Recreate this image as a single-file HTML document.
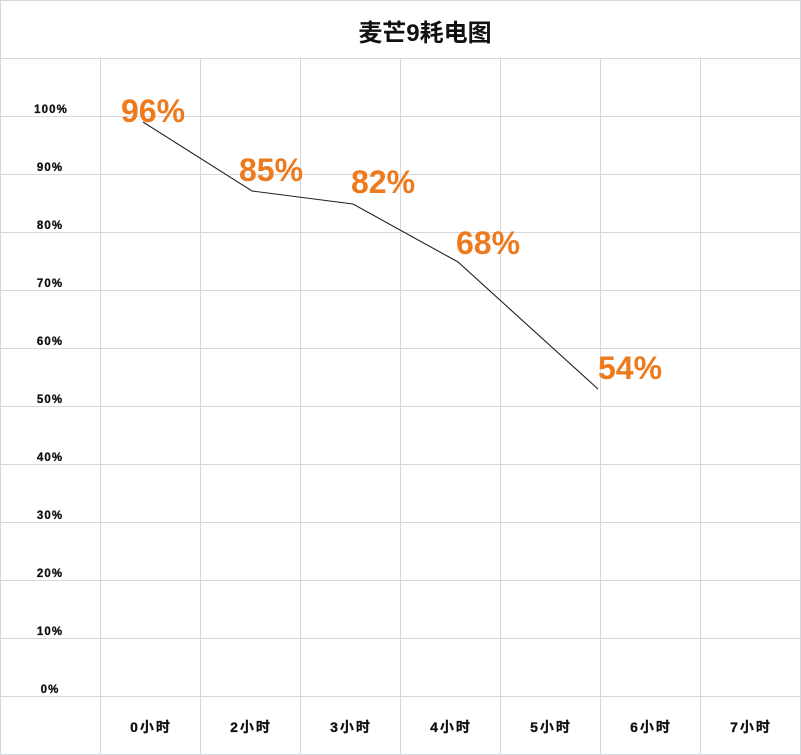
<!DOCTYPE html>
<html><head><meta charset="utf-8"><style>
html,body{margin:0;padding:0;background:#fff;}
svg{display:block;}
</style></head><body>
<svg width="801" height="755" viewBox="0 0 801 755" xmlns="http://www.w3.org/2000/svg">
<rect x="0" y="0" width="801" height="755" fill="#fff"/>
<g stroke="#d5d8dc" stroke-width="1" fill="none">
<line x1="0.5" y1="0" x2="0.5" y2="755"/>
<line x1="800.5" y1="0" x2="800.5" y2="755"/>
<line x1="0" y1="0.5" x2="801" y2="0.5"/>
<line x1="0" y1="754.5" x2="801" y2="754.5"/>
<line x1="0" y1="58.5" x2="801" y2="58.5"/>
<line x1="0" y1="116.5" x2="801" y2="116.5"/>
<line x1="0" y1="174.5" x2="801" y2="174.5"/>
<line x1="0" y1="232.5" x2="801" y2="232.5"/>
<line x1="0" y1="290.5" x2="801" y2="290.5"/>
<line x1="0" y1="348.5" x2="801" y2="348.5"/>
<line x1="0" y1="406.5" x2="801" y2="406.5"/>
<line x1="0" y1="464.5" x2="801" y2="464.5"/>
<line x1="0" y1="522.5" x2="801" y2="522.5"/>
<line x1="0" y1="580.5" x2="801" y2="580.5"/>
<line x1="0" y1="638.5" x2="801" y2="638.5"/>
<line x1="0" y1="696.5" x2="801" y2="696.5"/>
<line x1="100.5" y1="58" x2="100.5" y2="755"/>
<line x1="200.5" y1="58" x2="200.5" y2="755"/>
<line x1="300.5" y1="58" x2="300.5" y2="755"/>
<line x1="400.5" y1="58" x2="400.5" y2="755"/>
<line x1="500.5" y1="58" x2="500.5" y2="755"/>
<line x1="600.5" y1="58" x2="600.5" y2="755"/>
<line x1="700.5" y1="58" x2="700.5" y2="755"/>
</g>
<text x="425" y="41" text-anchor="middle" font-family="Liberation Sans, Noto Sans CJK SC, sans-serif" font-weight="bold" font-size="24" fill="#111">麦芒9耗电图</text>
<g font-family="Liberation Sans, sans-serif" font-weight="bold" font-size="11.5" fill="#111" stroke="#111" stroke-width="0.3" text-anchor="middle" letter-spacing="1.1">
<text x="51" y="113">100%</text>
<text x="50" y="171">90%</text>
<text x="50" y="229">80%</text>
<text x="50" y="287">70%</text>
<text x="50" y="345">60%</text>
<text x="50" y="403">50%</text>
<text x="50" y="461">40%</text>
<text x="50" y="519">30%</text>
<text x="50" y="577">20%</text>
<text x="50" y="635">10%</text>
<text x="50" y="693">0%</text>
</g>
<g font-family="Liberation Sans, Noto Sans CJK SC, sans-serif" font-weight="bold" font-size="14" fill="#111" stroke="#111" stroke-width="0.3" text-anchor="middle" letter-spacing="2">
<text x="151" y="732">0小时</text>
<text x="251" y="732">2小时</text>
<text x="351" y="732">3小时</text>
<text x="451" y="732">4小时</text>
<text x="551" y="732">5小时</text>
<text x="651" y="732">6小时</text>
<text x="751" y="732">7小时</text>
</g>
<polyline points="143,122 252,191 353,204 458,262 598,389" fill="none" stroke="#222" stroke-width="1.1"/>
<g font-family="Liberation Sans, sans-serif" font-weight="bold" font-size="32" fill="#EE7A1E">
<text x="121" y="122">96%</text>
<text x="239" y="181">85%</text>
<text x="351" y="193">82%</text>
<text x="456" y="254">68%</text>
<text x="598" y="379">54%</text>
</g>
</svg>
</body></html>
